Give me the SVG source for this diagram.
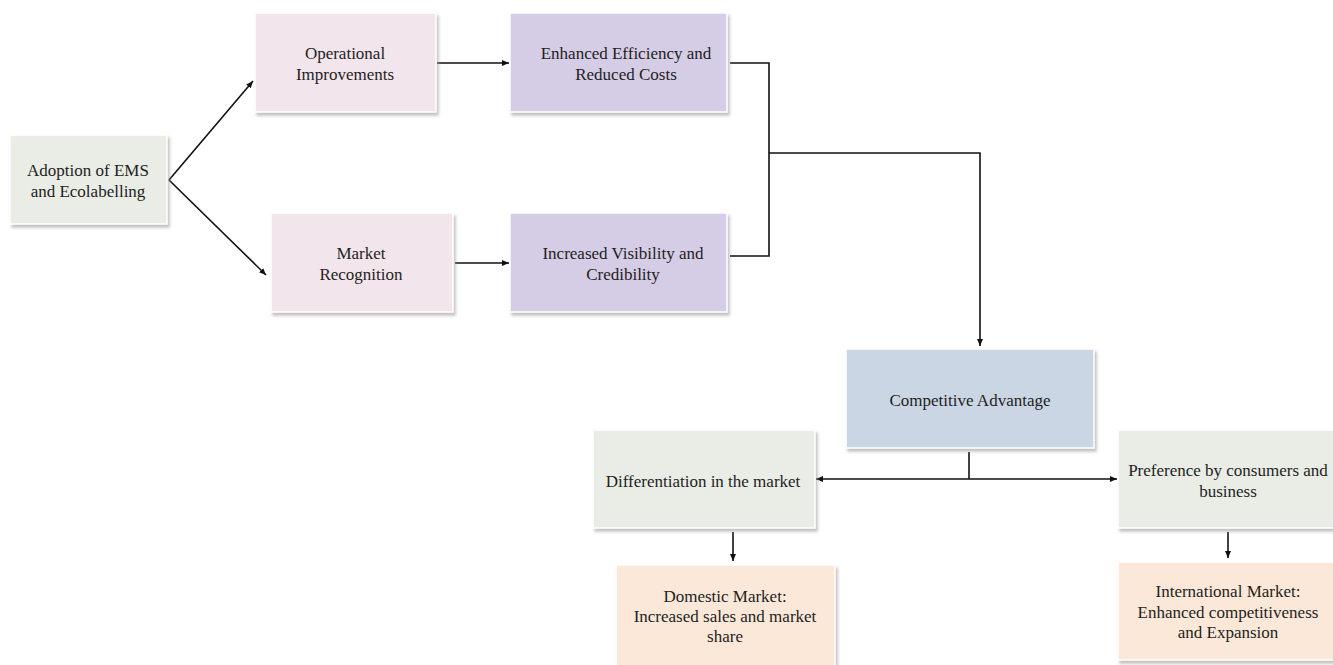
<svg xmlns="http://www.w3.org/2000/svg" width="1333" height="665" viewBox="0 0 1333 665">
<style>
.box{stroke:#ffffff;stroke-width:1.5;filter:url(#sh)}
.g{fill:#e9ede6}.p{fill:#f3e5ec}.l{fill:#d5cce5}.b{fill:#cbd6e4}.o{fill:#fbe8d8}
text{font-family:"Liberation Serif","Times New Roman",serif;font-size:17px;fill:#1e1e1e;text-anchor:middle}
.c{fill:none;stroke:#111;stroke-width:1.6}
</style>
<defs>
<filter id="sh" x="-10%" y="-10%" width="125%" height="130%">
<feDropShadow dx="2" dy="3" stdDeviation="1.5" flood-color="#999" flood-opacity="0.6"/>
</filter>
<marker id="ah" markerWidth="8" markerHeight="8" refX="7" refY="4" orient="auto" markerUnits="userSpaceOnUse">
<path d="M0,1 L7,4 L0,7 Z" fill="#111"/>
</marker>
</defs>
<rect width="1333" height="665" fill="#fff"/>
<g id="connectors">
<path class="c" d="M169,180 L253,81" marker-end="url(#ah)"/>
<path class="c" d="M169,180 L266,275" marker-end="url(#ah)"/>
<path class="c" d="M437,63 L509,63" marker-end="url(#ah)"/>
<path class="c" d="M455,263 L509,263" marker-end="url(#ah)"/>
<path class="c" d="M730,63 L769,63 L769,256 L730,256"/>
<path class="c" d="M769,153 L980,153 L980,346" marker-end="url(#ah)"/>
<path class="c" d="M969,452 L969,479"/>
<path class="c" d="M969,479 L816,479" marker-end="url(#ah)"/>
<path class="c" d="M969,479 L1117,479" marker-end="url(#ah)"/>
<path class="c" d="M733,532 L733,561" marker-end="url(#ah)"/>
<path class="c" d="M1228,532 L1228,558" marker-end="url(#ah)"/>
</g>
<g id="adoption"><rect class="box g" x="10" y="135" width="157" height="89"/>
<text x="88" y="176">Adoption of EMS</text><text x="88" y="197">and Ecolabelling</text></g>
<g id="operational"><rect class="box p" x="255" y="13" width="181" height="99"/>
<text x="345" y="59">Operational</text><text x="345" y="80">Improvements</text></g>
<g id="market-recognition"><rect class="box p" x="271" y="213" width="182" height="99"/>
<text x="361" y="259">Market</text><text x="361" y="280">Recognition</text></g>
<g id="enhanced"><rect class="box l" x="510" y="13" width="217" height="99"/>
<text x="626" y="59">Enhanced Efficiency and</text><text x="626" y="80">Reduced Costs</text></g>
<g id="increased"><rect class="box l" x="510" y="213" width="217" height="99"/>
<text x="623" y="259">Increased Visibility and</text><text x="623" y="280">Credibility</text></g>
<g id="competitive"><rect class="box b" x="846" y="349" width="248" height="99"/>
<text x="970" y="406">Competitive Advantage</text></g>
<g id="differentiation"><rect class="box g" x="593" y="430" width="222" height="98"/>
<text x="703" y="487">Differentiation  in the market</text></g>
<g id="preference"><rect class="box g" x="1118" y="430" width="217" height="98"/>
<text x="1228" y="476">Preference by consumers and</text><text x="1228" y="497">business</text></g>
<g id="domestic"><rect class="box o" x="616" y="565" width="219" height="102"/>
<text x="725" y="602">Domestic Market:</text><text x="725" y="622">Increased sales and market</text><text x="725" y="642">share</text></g>
<g id="international"><rect class="box o" x="1118" y="562" width="217" height="98"/>
<text x="1228" y="597">International Market:</text><text x="1228" y="618">Enhanced competitiveness</text><text x="1228" y="638">and Expansion</text></g>
</svg>
